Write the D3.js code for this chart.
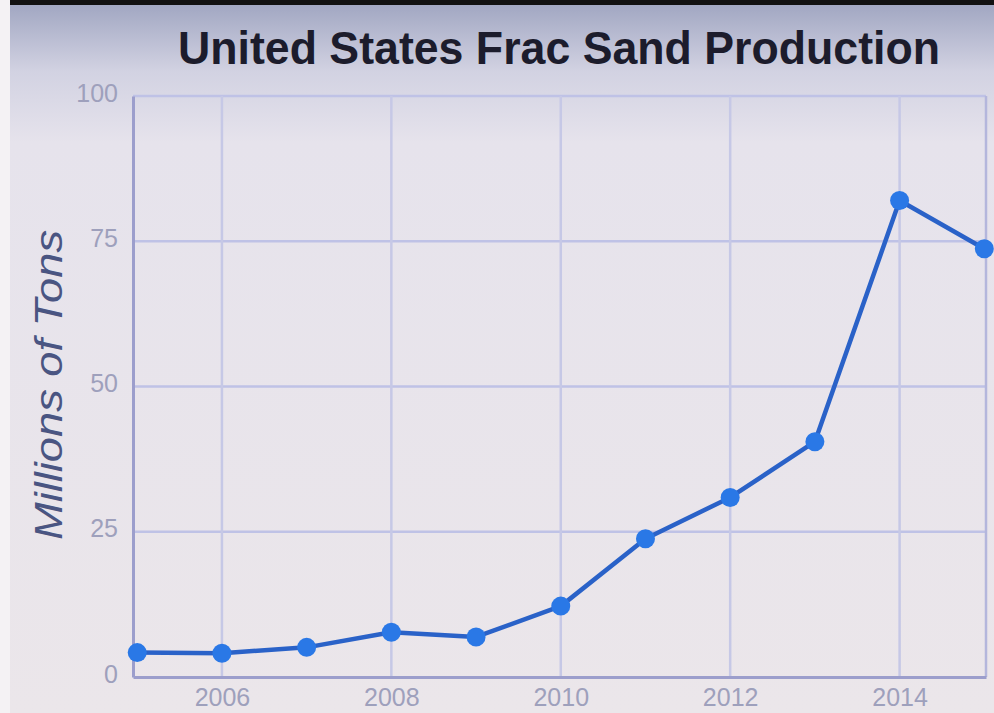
<!DOCTYPE html>
<html>
<head>
<meta charset="utf-8">
<script src="https://cdn.jsdelivr.net/npm/d3@7"></script>
<style>
  html, body { margin: 0; padding: 0; background: #e8e4ea; }
  svg { display: block; }
</style>
</head>
<body>
<svg id="chart" width="994" height="713"></svg>
<script>
// Frac sand production, millions of tons
const years = [2005, 2006, 2007, 2008, 2009, 2010, 2011, 2012, 2013, 2014, 2015];
const production = [4.2, 4.1, 5.1, 7.7, 6.9, 12.2, 23.8, 30.9, 40.5, 82.0, 73.7];
const yTicks = [0, 25, 50, 75, 100];
const xTicks = [2006, 2008, 2010, 2012, 2014];
const titleText = "United States Frac Sand Production";
const yLabelText = "Millions of Tons";

const W = 994, H = 713;
const plot = { left: 133, right: 986, top: 96, bottom: 677 };

const svg = d3.select("#chart");

// Screen backdrop: light panel with a darker band along the top edge
const defs = svg.append("defs");
const bg = defs.append("linearGradient").attr("id", "bg").attr("x1", 0).attr("y1", 0).attr("x2", 0).attr("y2", 1);
bg.append("stop").attr("offset", "0").attr("stop-color", "#9ea4c0");
bg.append("stop").attr("offset", "0.1").attr("stop-color", "#d2d2e2");
bg.append("stop").attr("offset", "0.2").attr("stop-color", "#e6e3ec");
bg.append("stop").attr("offset", "1").attr("stop-color", "#ebe6ea");
svg.append("rect").attr("width", W).attr("height", H).attr("fill", "url(#bg)");
svg.append("rect").attr("width", W).attr("height", 5).attr("fill", "#111");
svg.append("rect").attr("width", 10).attr("height", H).attr("fill", "#f4f2f4");

const x = d3.scaleLinear().domain([2004.95, 2015.02]).range([plot.left, plot.right]);
const y = d3.scaleLinear().domain([0, 100]).range([plot.bottom, plot.top]);

// Gridlines
const grid = svg.append("g");
grid.selectAll("line.h").data(yTicks.slice(1)).join("line")
  .attr("x1", plot.left).attr("x2", plot.right)
  .attr("y1", d => y(d)).attr("y2", d => y(d))
  .attr("stroke", "#bfc2e6").attr("stroke-width", 2.5);
grid.selectAll("line.v").data(xTicks).join("line")
  .attr("x1", d => x(d)).attr("x2", d => x(d))
  .attr("y1", plot.top).attr("y2", plot.bottom)
  .attr("stroke", "#c6c8e6").attr("stroke-width", 2.5);
// Right edge of the plot frame
grid.append("line")
  .attr("x1", plot.right).attr("x2", plot.right)
  .attr("y1", plot.top).attr("y2", plot.bottom)
  .attr("stroke", "#b4b6dc").attr("stroke-width", 2.5);

// Axes
const tickFont = "'Liberation Sans', Arial, sans-serif";
const yAxis = svg.append("g")
  .attr("transform", `translate(${plot.left},0)`)
  .call(d3.axisLeft(y).tickValues(yTicks).tickSize(0).tickPadding(15));
const xAxis = svg.append("g")
  .attr("transform", `translate(0,${plot.bottom})`)
  .call(d3.axisBottom(x).tickValues(xTicks).tickFormat(d3.format("d")).tickSize(0).tickPadding(11));
[yAxis, xAxis].forEach(a => {
  a.select(".domain").attr("stroke", "#9c9ecc").attr("stroke-width", 3);
  a.selectAll("text").attr("fill", "#9ea0bc").style("font-family", tickFont).style("font-size", "25px");
});
yAxis.selectAll("text").attr("dy", "0.2em");

// Series line and markers
const line = d3.line().x((d, i) => x(years[i])).y(d => y(d));
svg.append("path")
  .datum(production)
  .attr("d", line)
  .attr("fill", "none")
  .attr("stroke", "#2a62c8")
  .attr("stroke-width", 4.5)
  .attr("stroke-linejoin", "round");
svg.selectAll("circle.pt").data(production).join("circle")
  .attr("class", "pt")
  .attr("cx", (d, i) => x(years[i]))
  .attr("cy", d => y(d))
  .attr("r", 9.5)
  .attr("fill", "#2a78e6");

// Title
svg.append("text")
  .attr("x", 559).attr("y", 64)
  .attr("text-anchor", "middle")
  .attr("textLength", 762).attr("lengthAdjust", "spacingAndGlyphs")
  .style("font-family", "'Liberation Sans', Arial, sans-serif")
  .style("font-weight", "bold")
  .style("font-size", "47px")
  .attr("fill", "#1c1c2c")
  .text(titleText);

// Y-axis title
svg.append("text")
  .attr("transform", "translate(62,385) rotate(-90)")
  .attr("text-anchor", "middle")
  .attr("textLength", 310).attr("lengthAdjust", "spacingAndGlyphs")
  .style("font-family", "'Liberation Sans', Arial, sans-serif")
  .style("font-style", "italic")
  .style("font-size", "38px")
  .attr("fill", "#4a5582")
  .text(yLabelText);
</script>
</body>
</html>
